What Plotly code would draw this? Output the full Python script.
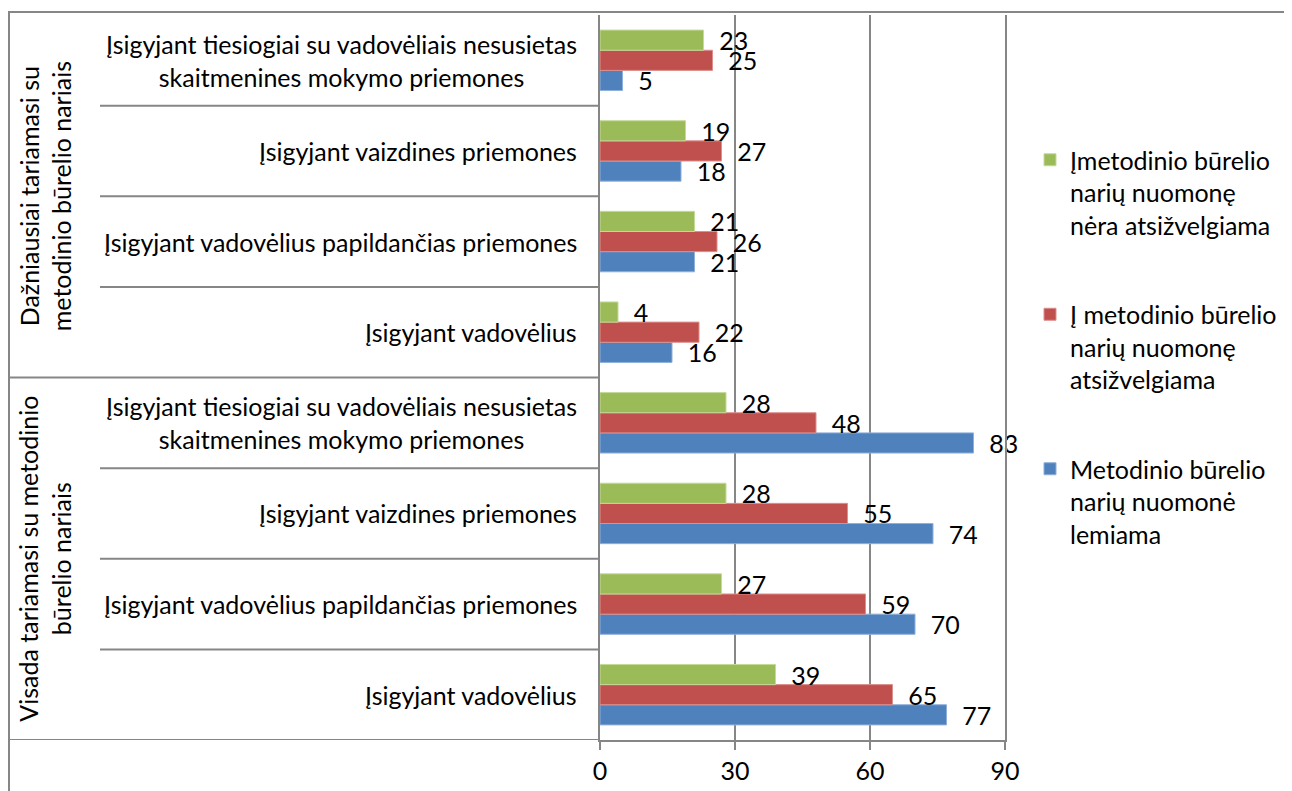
import plotly.graph_objects as go

# ---- data ----
categories = [
    "Įsigyjant vadovėlius",
    "Įsigyjant vadovėlius papildančias priemones",
    "Įsigyjant vaizdines priemones",
    "Įsigyjant tiesiogiai su vadovėliais nesusietas<br>skaitmenines mokymo priemones",
]
groups = [
    "Visada tariamasi su metodinio<br>būrelio nariais",
    "Dažniausiai tariamasi su<br>metodinio būrelio nariais",
]
# order: Visada (4 categories, bottom -> top), then Dažniausiai (bottom -> top)
blue_vals = [77, 70, 74, 83, 16, 21, 18, 5]
red_vals = [65, 59, 55, 48, 22, 26, 27, 25]
green_vals = [39, 27, 28, 28, 4, 21, 19, 23]

series_names = [
    "Metodinio būrelio<br>narių nuomonė<br>lemiama",
    "Į metodinio būrelio<br>narių nuomonę<br>atsižvelgiama",
    "Įmetodinio būrelio<br>narių nuomonę<br>nėra atsižvelgiama",
]
series_colors = ["#4F81BD", "#C0504D", "#9BBB59"]
series_lines = ["#8EB0DA", "#DC8F8C", "#C3DA98"]

x_ticks = [0, 30, 60, 90]

# ---- geometry (page has an 8px body margin; work in reference pixels) ----
OFF = 8
W, H = 1292 - OFF, 791 - OFF
L, R, T, B = 600 - OFF, 1005 - OFF, 15 - OFF, 740 - OFF


def px(x):
    return (x - OFF - L) / (R - L)


def py(y):
    return (B - (y - OFF)) / (B - T)


FONT = "Lato"
FS = 25
GRID = "#868686"

ypos = list(range(len(blue_vals)))
fig = go.Figure()
n_series = len(series_names)
for i, (name, vals) in enumerate(zip(series_names, [blue_vals, red_vals, green_vals])):
    fig.add_trace(go.Bar(
        y=ypos, x=vals, orientation="h", name=name,
        marker=dict(color=series_colors[i], line=dict(color=series_lines[i], width=1)),
        text=vals, texttemplate="\u00a0\u00a0%{x}", textposition="outside",
        textfont=dict(family=FONT, size=FS, color="black"),
        constraintext="none", cliponaxis=False,
        legendgroup="g%d" % (n_series - i), legendrank=n_series - i,
    ))

shapes = []
# outer border lines
shapes.append(dict(type="line", xref="paper", yref="paper", x0=px(8), x1=px(1300), y0=py(12), y1=py(12),
                   line=dict(color=GRID, width=2)))
shapes.append(dict(type="line", xref="paper", yref="paper", x0=px(9), x1=px(9), y0=py(12), y1=py(800),
                   line=dict(color=GRID, width=2)))
n_per = len(categories)
for k in range(len(ypos)):
    yv = k - 0.5
    x0 = px(8) if k % n_per == 0 else px(100)
    shapes.append(dict(type="line", xref="paper", yref="y", x0=x0, x1=0, y0=yv, y1=yv,
                       line=dict(color=GRID, width=2)))

annotations = []
for k in ypos:
    annotations.append(dict(xref="paper", yref="y", x=px(579), y=k, xanchor="right", yanchor="middle",
                            text=categories[k % n_per], showarrow=False, align="center",
                            font=dict(family=FONT, size=FS, color="black")))
for g, gname in enumerate(groups):
    annotations.append(dict(xref="paper", yref="y", x=px(45), y=g * n_per + (n_per - 1) / 2,
                            xanchor="center", yanchor="middle", text=gname, textangle=-90,
                            showarrow=False, align="center",
                            font=dict(family=FONT, size=FS, color="black")))

fig.update_layout(
    width=W, height=H,
    margin=dict(l=L, r=W - R, t=T, b=H - B),
    paper_bgcolor="white", plot_bgcolor="white",
    barmode="group", bargap=0.333, bargroupgap=0,
    font=dict(family=FONT, size=FS, color="black"),
    xaxis=dict(range=[0, 90], tickvals=x_ticks, showgrid=True, gridcolor=GRID, gridwidth=2,
               zeroline=False, showline=True, linecolor=GRID, linewidth=2,
               ticks="outside", ticklen=8, tickwidth=2, tickcolor=GRID,
               tickfont=dict(family=FONT, size=FS, color="black")),
    yaxis=dict(range=[-0.5, len(ypos) - 0.5], showticklabels=False, showgrid=False, zeroline=False,
               showline=True, mirror=True, linecolor=GRID, linewidth=2, ticks=""),
    legend=dict(x=px(1030), y=py(137), xanchor="left", yanchor="top", traceorder="grouped",
                valign="top", tracegroupgap=54, font=dict(family=FONT, size=FS, color="black"),
                bgcolor="rgba(0,0,0,0)"),
    shapes=shapes, annotations=annotations,
    showlegend=True,
)

fig.write_html("out.html")
